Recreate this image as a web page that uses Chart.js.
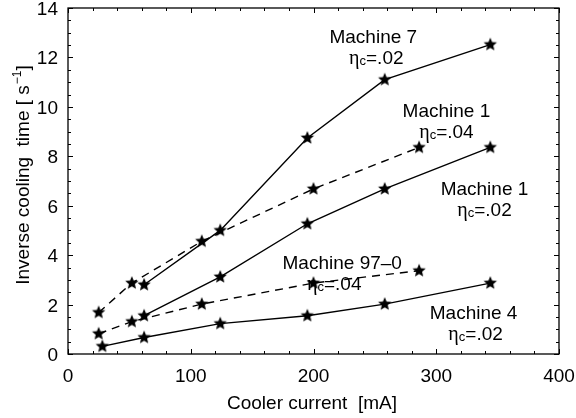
<!DOCTYPE html>
<html>
<head>
<meta charset="utf-8">
<script src="https://cdn.jsdelivr.net/npm/chart.js@4.4.0/dist/chart.umd.min.js"></script>
<style>
  html, body { margin: 0; padding: 0; background: #fff; }
</style>
</head>
<body>
<canvas id="c" width="576" height="418"></canvas>
<script>
// data
const m7X = [62, 124, 195, 258, 344];
const m7Y = [2.8, 5.0, 8.74, 11.1, 12.52];
const m1bX = [25, 52, 109, 200, 286];
const m1bY = [1.68, 2.87, 4.56, 6.68, 8.36];
const m1aX = [62, 124, 195, 258, 344];
const m1aY = [1.55, 3.12, 5.27, 6.68, 8.36];
const m97X = [25, 52, 109, 200, 286];
const m97Y = [0.82, 1.31, 2.02, 2.87, 3.37];
const m4X = [28, 62, 124, 195, 258, 344];
const m4Y = [0.31, 0.67, 1.23, 1.55, 2.02, 2.87];

const xTicks = [0, 100, 200, 300, 400];
const yTicks = [0, 2, 4, 6, 8, 10, 12, 14];

// curve labels: name, eta value, anchor (data units, baseline of first line)
const labelNames = ["Machine 7", "Machine 1", "Machine 1", "Machine 97\u20130", "Machine 4"];
const labelEta = [".02", ".04", ".02", ".04", ".02"];
const labelX = [248.7, 308.3, 339.3, 223.4, 330.4];
const labelY = [12.6, 9.6, 6.45, 3.43, 1.43];
const etaShift = [3, 0, 0, -8, 2]; // px, second line vs first

const FONT = "'Liberation Sans', Arial, sans-serif";

function makeStar(r) {
    const s = Math.ceil(r * 2 + 2);
    const c = document.createElement("canvas");
    c.width = s; c.height = s;
    const g = c.getContext("2d");
    g.fillStyle = "#000";
    g.beginPath();
    for (let i = 0; i < 10; i++) {
        const a = -Math.PI / 2 + i * Math.PI / 5;
        const rr = i % 2 ? r * 0.45 : r;
        g.lineTo(s / 2 + rr * Math.cos(a), s / 2 + rr * Math.sin(a));
    }
    g.closePath();
    g.fill();
    return c;
}
const star = makeStar(7);

function pts(xs, ys) {
    return xs.map((x, i) => ({ x: x, y: ys[i] }));
}

function series(xs, ys, dashed) {
    return {
        data: pts(xs, ys),
        showLine: true,
        borderColor: "#000",
        borderWidth: 1.4,
        borderDash: dashed ? [8, 6] : [],
        pointStyle: star,
        pointRadius: 6,
        tension: 0
    };
}

// eta with subscript c, centered at cx
function drawEta(ctx, cx, baseline, val) {
    const big = "19px " + FONT;
    const etaF = "20px 'Liberation Serif', serif";
    const small = "13px " + FONT;
    ctx.font = etaF; const w1 = ctx.measureText("\u03b7").width;
    ctx.font = small; const w2 = ctx.measureText("c").width;
    ctx.font = big; const w3 = ctx.measureText("=" + val).width;
    let x = cx - (w1 + w2 + w3) / 2;
    ctx.textAlign = "left";
    ctx.font = etaF; ctx.fillText("\u03b7", x, baseline); x += w1;
    ctx.font = small; ctx.fillText("c", x, baseline + 1); x += w2;
    ctx.font = big; ctx.fillText("=" + val, x, baseline);
}

const framePlugin = {
    id: "frame",
    afterDraw(chart) {
        const ctx = chart.ctx;
        const a = chart.chartArea;
        const xs = chart.scales.x, ys = chart.scales.y;
        ctx.save();
        ctx.strokeStyle = "#000";
        ctx.lineWidth = 1.3;
        ctx.strokeRect(a.left, a.top, a.right - a.left, a.bottom - a.top);
        ctx.lineWidth = 1;
        ctx.beginPath();
        for (let v = 0; v <= 400; v += 20) {
            const p = Math.round(xs.getPixelForValue(v)) + 0.5;
            const len = v % 100 === 0 ? 5 : 3;
            ctx.moveTo(p, a.bottom); ctx.lineTo(p, a.bottom - len);
            ctx.moveTo(p, a.top); ctx.lineTo(p, a.top + len);
        }
        for (let v = 0; v <= 14; v += 0.5) {
            const p = Math.round(ys.getPixelForValue(v)) + 0.5;
            const len = v % 2 === 0 ? 5 : 3;
            ctx.moveTo(a.left, p); ctx.lineTo(a.left + len, p);
            ctx.moveTo(a.right, p); ctx.lineTo(a.right - len, p);
        }
        ctx.stroke();

        ctx.fillStyle = "#000";
        ctx.textBaseline = "alphabetic";

        // tick labels
        ctx.font = "19px " + FONT;
        ctx.textAlign = "center";
        xTicks.forEach(v => ctx.fillText(String(v), xs.getPixelForValue(v), a.bottom + 28));
        ctx.textAlign = "right";
        yTicks.forEach(v => ctx.fillText(String(v), a.left - 10, ys.getPixelForValue(v) + 7));

        // curve labels
        for (let i = 0; i < labelNames.length; i++) {
            const cx = xs.getPixelForValue(labelX[i]);
            const cy = ys.getPixelForValue(labelY[i]);
            ctx.font = "19px " + FONT;
            ctx.textAlign = "center";
            ctx.fillText(labelNames[i], cx, cy);
            drawEta(ctx, cx + etaShift[i], cy + 21, labelEta[i]);
        }

        // axis titles
        ctx.font = "19px " + FONT;
        ctx.textAlign = "center";
        ctx.fillText("Cooler current  [mA]", 312, 409);

        ctx.save();
        ctx.translate(29, 175);
        ctx.rotate(-Math.PI / 2);
        const t1 = "Inverse cooling  time [ s";
        const t2 = "\u22121";
        const t3 = "]";
        ctx.font = "19px " + FONT; const w1 = ctx.measureText(t1).width;
        ctx.font = "12px " + FONT; const w2 = ctx.measureText(t2).width;
        ctx.font = "19px " + FONT; const w3 = ctx.measureText(t3).width;
        let x = -(w1 + w2 + w3 + 1) / 2;
        ctx.textAlign = "left";
        ctx.font = "19px " + FONT; ctx.fillText(t1, x, 0); x += w1;
        ctx.font = "12px " + FONT; ctx.fillText(t2, x + 1, -8); x += w2 + 1;
        ctx.font = "19px " + FONT; ctx.fillText(t3, x, 0);
        ctx.restore();
        ctx.restore();
    }
};

new Chart(document.getElementById("c"), {
    type: "scatter",
    data: {
        datasets: [
            series(m7X, m7Y, false),
            series(m1bX, m1bY, true),
            series(m1aX, m1aY, false),
            series(m97X, m97Y, true),
            series(m4X, m4Y, false)
        ]
    },
    options: {
        responsive: false,
        animation: false,
        devicePixelRatio: 1,
        layout: { padding: { top: 8, right: 17, left: 0, bottom: 0 } },
        plugins: { legend: { display: false }, tooltip: { enabled: false } },
        scales: {
            x: {
                type: "linear",
                min: 0, max: 400,
                afterBuildTicks: (s) => { s.ticks = xTicks.map(v => ({ value: v })); },
                afterFit: (s) => { s.height = 64; },
                grid: { display: false, drawTicks: false },
                border: { display: false },
                ticks: { display: false }
            },
            y: {
                type: "linear",
                min: 0, max: 14,
                afterBuildTicks: (s) => { s.ticks = yTicks.map(v => ({ value: v })); },
                afterFit: (s) => { s.width = 68; },
                grid: { display: false, drawTicks: false },
                border: { display: false },
                ticks: { display: false }
            }
        }
    },
    plugins: [framePlugin]
});
</script>
</body>
</html>
